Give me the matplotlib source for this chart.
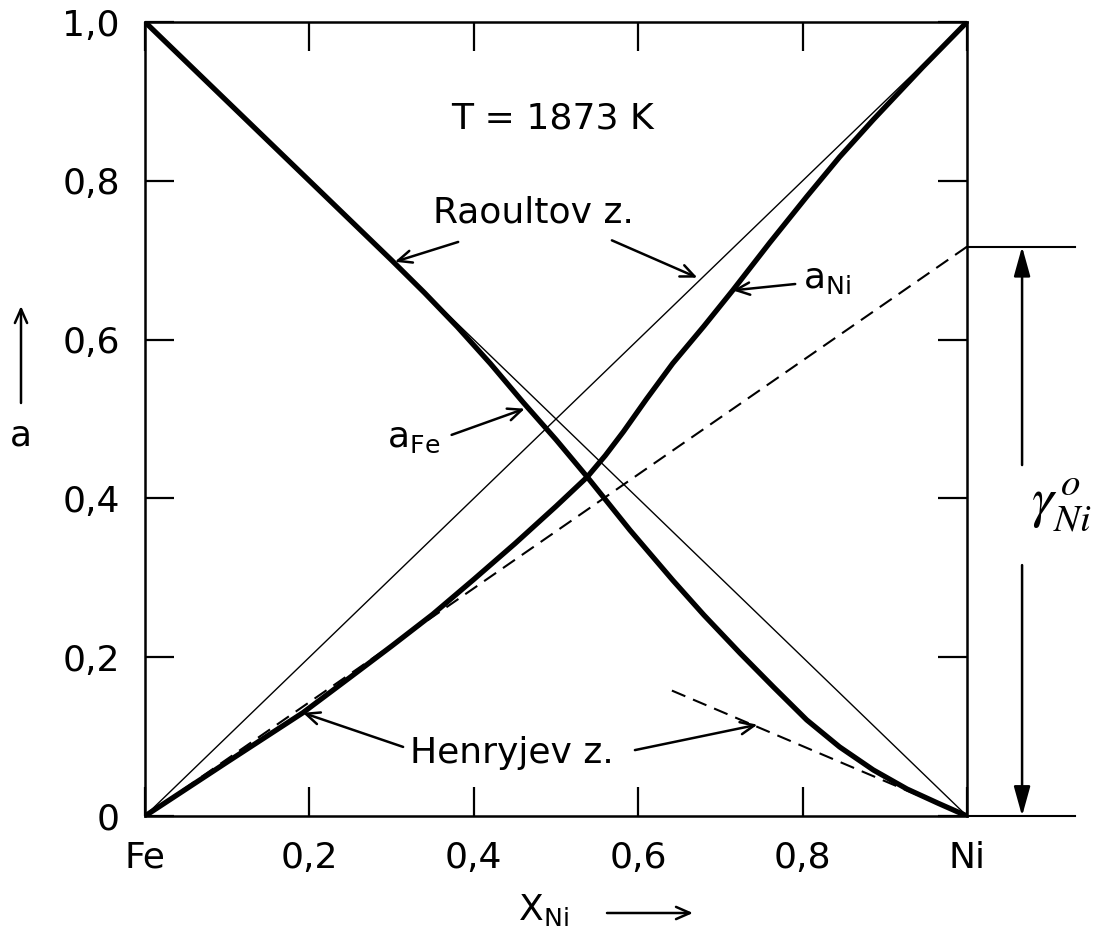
#!/usr/bin/env python3

import numpy as np
from matplotlib import pyplot as plt
from matplotlib.patches import FancyArrowPatch

# activities (T = 1873 K)
x_ni = [0, 0.1, 0.192, 0.25, 0.3, 0.35, 0.4, 0.45, 0.5, 0.538, 0.56, 0.582,
        0.61, 0.642, 0.68, 0.715, 0.76, 0.805, 0.845, 0.886, 0.946, 1.0]
a_ni = [0, 0.068, 0.130, 0.175, 0.214, 0.254, 0.298, 0.343, 0.390, 0.427, 0.454,
        0.484, 0.525, 0.570, 0.617, 0.662, 0.722, 0.780, 0.830, 0.877, 0.943, 1.0]

x_fe = [0, 0.1, 0.2, 0.3, 0.34, 0.38, 0.42, 0.46, 0.5, 0.538, 0.59, 0.642,
        0.68, 0.724, 0.765, 0.805, 0.845, 0.886, 0.927, 0.965, 1.0]
a_fe = [1.0, 0.9, 0.8, 0.700, 0.659, 0.616, 0.570, 0.521, 0.474, 0.427, 0.360,
        0.297, 0.253, 0.205, 0.162, 0.121, 0.087, 0.058, 0.034, 0.016, 0]

gamma0_ni = 0.717
gamma0_fe = 0.44
henry_fe_start = 0.641

xticks = [0, 0.2, 0.4, 0.6, 0.8, 1.0]
xlabels = ['Fe', '0,2', '0,4', '0,6', '0,8', 'Ni']
yticks = [0, 0.2, 0.4, 0.6, 0.8, 1.0]
ylabels = ['0', '0,2', '0,4', '0,6', '0,8', '1,0']


def main():
    plt.rcParams['font.family'] = ['DejaVu Sans']
    plt.rcParams['mathtext.fontset'] = 'dejavusans'
    plt.rcParams['mathtext.default'] = 'regular'
    fs = 26

    fig = plt.figure(figsize=(11.04, 9.33), dpi=100)
    ax = fig.add_axes([145 / 1104, 117 / 933, 822 / 1104, 794 / 933])
    ax.set_xlim(0, 1)
    ax.set_ylim(0, 1)

    # Raoult lines
    ax.plot([0, 1], [0, 1], color='black', lw=1.0)
    ax.plot([0, 1], [1, 0], color='black', lw=1.0)
    # Henry lines
    ax.plot([0, 1], [0, gamma0_ni], color='black', lw=1.5, dashes=(7, 4))
    ax.plot([henry_fe_start, 1], [gamma0_fe * (1 - henry_fe_start), 0],
            color='black', lw=1.5, dashes=(7, 4))
    # activity curves
    ax.plot(x_ni, a_ni, color='black', lw=3.8, solid_joinstyle='round')
    ax.plot(x_fe, a_fe, color='black', lw=3.8, solid_joinstyle='round')

    for s in ax.spines.values():
        s.set_linewidth(1.8)
    ax.set_xticks(xticks)
    ax.set_xticklabels(xlabels)
    ax.set_yticks(yticks)
    ax.set_yticklabels(ylabels)
    ax.tick_params(direction='in', length=21, width=1.6, labelsize=fs,
                   top=True, right=True, pad=18)

    arr = dict(arrowstyle='->,head_length=0.5,head_width=0.22', lw=1.8,
               color='black', shrinkA=0, shrinkB=0, mutation_scale=20)

    ax.text(0.496, 0.866, 'T = 1873 K', fontsize=fs, ha='center', va='baseline')

    ax.text(0.472, 0.747, 'Raoultov z.', fontsize=fs, ha='center', va='baseline')
    ax.annotate('', xy=(0.304, 0.698), xytext=(0.381, 0.723), arrowprops=arr)
    ax.annotate('', xy=(0.672, 0.678), xytext=(0.568, 0.725), arrowprops=arr)

    ax.text(0.800, 0.665, r'a$_{\mathrm{Ni}}$', fontsize=fs, va='baseline')
    ax.annotate('', xy=(0.715, 0.662), xytext=(0.791, 0.670), arrowprops=arr)

    ax.text(0.294, 0.465, r'a$_{\mathrm{Fe}}$', fontsize=fs, va='baseline')
    ax.annotate('', xy=(0.462, 0.513), xytext=(0.373, 0.480), arrowprops=arr)

    ax.text(0.322, 0.067, 'Henryjev z.', fontsize=fs, va='baseline')
    ax.annotate('', xy=(0.192, 0.130), xytext=(0.314, 0.087), arrowprops=arr)
    ax.annotate('', xy=(0.745, 0.115), xytext=(0.596, 0.083), arrowprops=arr)

    # gamma° of Ni marker outside the frame
    ax.plot([1, 1.131], [gamma0_ni, gamma0_ni], color='black', lw=1.5, clip_on=False)
    ax.plot([1, 1.131], [0, 0], color='black', lw=1.5, clip_on=False)
    darr = dict(arrowstyle='-|>,head_length=0.9,head_width=0.25', lw=1.8,
                color='black', shrinkA=0, shrinkB=0, mutation_scale=20)
    ax.annotate('', xy=(1.067, gamma0_ni), xytext=(1.067, 0.442),
                arrowprops=darr, annotation_clip=False)
    ax.annotate('', xy=(1.067, 0), xytext=(1.067, 0.316),
                arrowprops=darr, annotation_clip=False)
    ax.text(1.078, 0.392, r'$\mathit{\gamma}^{\,\mathit{o}}_{\mathit{Ni}}$',
            fontsize=40, math_fontfamily='stix', va='center', clip_on=False)

    # axis labels with arrows
    fig.text(21 / 1104, 1 - 435 / 933, 'a', fontsize=fs, ha='center', va='center')
    fig.add_artist(FancyArrowPatch(
        (21 / 1104, 1 - 403 / 933), (21 / 1104, 1 - 306 / 933),
        transform=fig.transFigure, **arr))
    fig.text(518 / 1104, 1 - 920 / 933, r'X$_{\mathrm{Ni}}$', fontsize=fs,
             va='baseline')
    fig.add_artist(FancyArrowPatch(
        (607 / 1104, 1 - 913 / 933), (693 / 1104, 1 - 913 / 933),
        transform=fig.transFigure, **arr))

    fig.savefig('out.png', dpi=100)


if __name__ == '__main__':
    main()
